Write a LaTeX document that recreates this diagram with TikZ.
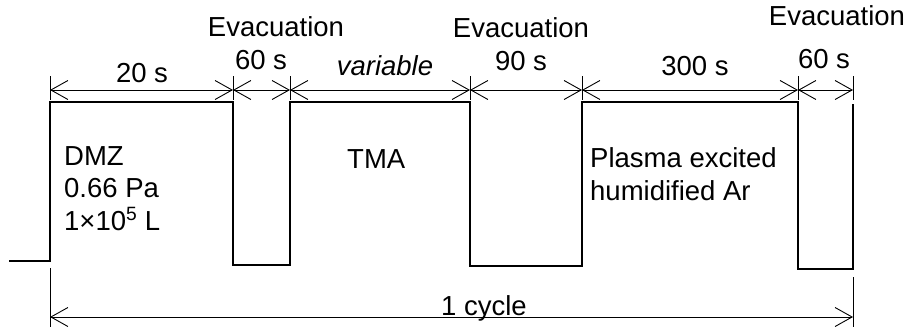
\documentclass[tikz,border=0pt]{standalone}
\usepackage{fontspec}
\setmainfont{Liberation Sans}
\usetikzlibrary{arrows.meta}
\begin{document}
\begin{tikzpicture}[x=1pt,y=-1pt,
  wave/.style={line width=2.6pt, line join=miter},
  dimline/.style={line width=0.9pt, {Straight Barb[length=17pt,width=19pt,line width=0.9pt]}-{Straight Barb[length=17pt,width=19pt,line width=0.9pt]}},
  extline/.style={line width=0.9pt},
  lbl/.style={inner sep=0pt, anchor=base, font=\fontsize{27.5}{33}\selectfont},
  inlbl/.style={inner sep=0pt, anchor=base west, font=\fontsize{27.5}{33}\selectfont}]
\useasboundingbox (0,0) rectangle (911,327);
% waveform corners
\coordinate (s0) at (9,261);
\coordinate (a0) at (50,261);
\coordinate (a1) at (50,102);
\coordinate (b1) at (233,102);
\coordinate (b0) at (233,265);
\coordinate (c0) at (290,265);
\coordinate (c1) at (290,102);
\coordinate (e1) at (470,102);
\coordinate (e0) at (470,266);
\coordinate (f0) at (582,266);
\coordinate (f1) at (582,102);
\coordinate (g1) at (798,102);
\coordinate (g0) at (798,269);
\coordinate (h0) at (853,269);
\coordinate (h1) at (853,104);
\draw[wave] (s0) -- (a0) -- (a1) -- (b1) -- (b0) -- (c0) -- (c1) -- (e1) -- (e0) -- (f0) -- (f1) -- (g1) -- (g0) -- (h0) -- (h1);
% extension lines (top)
\foreach \n/\x in {0/50,1/233,2/290,3/470,4/582,5/798,6/853}{
  \coordinate (t\n) at (\x,76);
  \coordinate (d\n) at (\x,90);
  \coordinate (u\n) at (\x,100);
  \draw[extline] (t\n) -- (u\n);
}
\draw[dimline] (d0) -- (d1);
\draw[dimline] (d1) -- (d2);
\draw[dimline] (d2) -- (d3);
\draw[dimline] (d3) -- (d4);
\draw[dimline] (d4) -- (d5);
\draw[dimline] (d5) -- (d6);
% bottom extension lines and cycle dimension
\coordinate (lb0) at (50,268);
\coordinate (lb1) at (50,327);
\coordinate (rb0) at (853,277);
\coordinate (rb1) at (853,327);
\draw[extline] (lb0) -- (lb1);
\draw[extline] (rb0) -- (rb1);
\coordinate (cy0) at (50,317);
\coordinate (cy1) at (853,317);
\draw[dimline] (cy0) -- (cy1);
% labels
\node[lbl] (ev1) at (276,36) {Evacuation};
\node[lbl] (t60a) at (261,69) {60 s};
\node[lbl] (ev2) at (521,37) {Evacuation};
\node[lbl] (t90) at (521,70) {90 s};
\node[lbl] (ev3) at (837,25) {Evacuation};
\node[lbl] (t60b) at (824,68) {60 s};
\node[lbl] (t20) at (142,82) {20 s};
\node[lbl] (tvar) at (385,75) {\itshape variable};
\node[lbl] (t300) at (695,75) {300 s};
\node[lbl] (cyc) at (484,315) {1 cycle};
% inner texts
\node[inlbl] (dmz1) at (64,165) {DMZ};
\node[inlbl] (dmz2) at (64,197) {0.66 Pa};
\node[inlbl] (dmz3) at (64,230) {1×10\textsuperscript{5} L};
\node[inlbl] (tma) at (347,168) {TMA};
\node[inlbl] (pl1) at (590,167) {Plasma excited};
\node[inlbl] (pl2) at (590,200) {humidified Ar};
\end{tikzpicture}
\end{document}
